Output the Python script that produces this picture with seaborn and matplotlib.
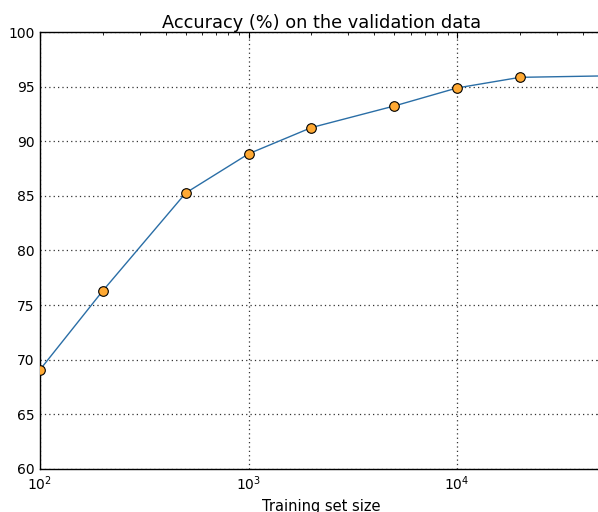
import numpy as np
import pandas as pd
import matplotlib
matplotlib.use('Agg')
import matplotlib.pyplot as plt
import seaborn as sns

training_sizes = [100, 200, 500, 1000, 2000, 5000, 10000, 20000, 50000]
accuracies = [69.09, 76.31, 85.27, 88.85, 91.25, 93.23, 94.88, 95.85, 95.98]

df = pd.DataFrame({'size': training_sizes, 'accuracy': accuracies})

sns.set_style('white')
plt.rcParams['font.family'] = ['DejaVu Sans']
plt.rcParams['font.size'] = 10
plt.rcParams['text.color'] = 'black'
plt.rcParams['axes.labelcolor'] = 'black'

fig = plt.figure(figsize=(5.98, 5.12), dpi=100)
# axes run a little past the right edge, like the reference crop
ax = fig.add_axes([0.0669, 0.084, 0.9414, 0.8535])

sns.lineplot(data=df, x='size', y='accuracy', color='#2A6EA6', linewidth=1.0, ax=ax)
sns.scatterplot(data=df, x='size', y='accuracy', color='#FFA933', edgecolor='black',
                linewidth=0.8, s=48, zorder=3, ax=ax, clip_on=True)

ax.set_xscale('log')
ax.set_xlim(100, 50000)
ax.set_ylim(60, 100)
ax.set_yticks(np.arange(60, 101, 5))
ax.grid(True, which='major', color='#333333', linestyle=(0, (1, 2.5)), linewidth=0.9)
ax.tick_params(which='both', direction='in', top=True, right=True, labelsize=10,
               color='black', labelcolor='black')
ax.tick_params(which='major', length=4, width=0.8, pad=4)
ax.tick_params(which='minor', length=2, width=0.6)
for sp in ax.spines.values():
    sp.set_color('black')
    sp.set_linewidth(1.0)

ax.set_title('Accuracy (%) on the validation data', fontsize=12.8, pad=3, color='black')
ax.set_xlabel('Training set size', fontsize=10.5, labelpad=4)
ax.set_ylabel('')

fig.savefig('out.png', dpi=100)
